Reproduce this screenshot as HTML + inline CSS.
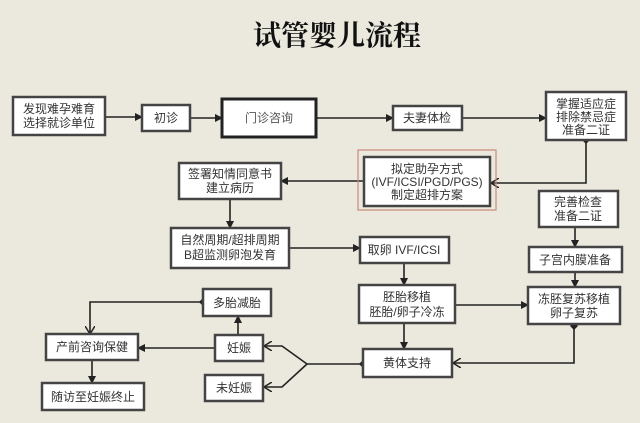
<!DOCTYPE html>
<html><head><meta charset="utf-8"><style>
html,body{margin:0;padding:0;background:#ebe8dd;}
svg{display:block;}
text{font-family:"Liberation Sans","Noto Sans CJK SC",sans-serif;font-size:12px;fill:#333;text-anchor:middle;}
.b{fill:#fff;stroke:#444;stroke-width:2.5;}
.l{stroke:#222;stroke-width:1.6;fill:none;}
</style></head><body>
<svg width="640" height="423" viewBox="0 0 640 423" xmlns="http://www.w3.org/2000/svg">
<defs>
<marker id="a" markerWidth="8" markerHeight="8" refX="7" refY="4" orient="auto" markerUnits="userSpaceOnUse"><path d="M0,0 L8,4 L0,8 Z" fill="#222"/></marker>
<marker id="o" markerWidth="9" markerHeight="10" refX="8" refY="5" orient="auto" markerUnits="userSpaceOnUse"><path d="M0,0 L8,5 L0,10" fill="none" stroke="#222" stroke-width="1.5"/></marker>
</defs>
<rect width="640" height="423" fill="#ebe8dd"/>
<text x="337" y="45" style="font-family:'Noto Serif CJK SC',serif;font-size:28px;font-weight:bold;fill:#111">试管婴儿流程</text>

<!-- connectors -->
<line class="l" x1="105" y1="117" x2="142" y2="117" marker-end="url(#a)"/>
<line class="l" x1="190" y1="118" x2="222" y2="118" marker-end="url(#a)"/>
<line class="l" x1="316" y1="118" x2="393" y2="118" marker-end="url(#a)"/>
<line class="l" x1="462" y1="118" x2="546" y2="118" marker-end="url(#a)"/>
<polyline class="l" points="586,142 586,183 491,183" marker-end="url(#o)"/>
<path d="M586,136 l4,4 -4,4 -4,-4z" fill="#222"/>
<line class="l" x1="364" y1="181" x2="281" y2="181" marker-end="url(#a)"/>
<line class="l" x1="230" y1="199" x2="230" y2="228" marker-end="url(#a)"/>
<line class="l" x1="289" y1="248" x2="360" y2="248" marker-end="url(#a)"/>
<line class="l" x1="575" y1="227" x2="575" y2="247" marker-end="url(#a)"/>
<line class="l" x1="404" y1="263" x2="404" y2="285" marker-end="url(#a)"/>
<line class="l" x1="575" y1="272" x2="575" y2="287" marker-end="url(#a)"/>
<line class="l" x1="455" y1="305" x2="528" y2="305" marker-end="url(#a)"/>
<line class="l" x1="404" y1="323" x2="404" y2="349" marker-end="url(#a)"/>
<polyline class="l" points="574,326 574,363 453,363" marker-end="url(#o)"/>
<path d="M574,322 l4,4 -4,4 -4,-4z" fill="#222"/>
<line class="l" x1="363" y1="364" x2="307" y2="364"/>
<path d="M363,360 l4,4 -4,4 -4,-4z" fill="#222"/>
<polyline class="l" points="307,364 282,346 264,346" marker-end="url(#o)"/>
<polyline class="l" points="307,364 282,387 264,387" marker-end="url(#o)"/>
<line class="l" x1="215" y1="348" x2="138" y2="348" marker-end="url(#a)"/>
<line class="l" x1="238" y1="335" x2="238" y2="316" marker-end="url(#a)"/>
<polyline class="l" points="203,302 90,302 90,334" marker-end="url(#o)"/>
<path d="M203,298 l4,4 -4,4 -4,-4z" fill="#222"/>
<line class="l" x1="92" y1="360" x2="92" y2="383" marker-end="url(#a)"/>

<!-- boxes -->
<rect class="b" x="13" y="97" width="92" height="38"/>
<text x="59" y="113">发现难孕难育</text><text x="59" y="127">选择就诊单位</text>
<rect class="b" x="142" y="105" width="48" height="26"/>
<text x="166" y="122">初诊</text>
<rect class="b" x="222" y="99" width="94" height="38" style="stroke:#222;stroke-width:3"/>
<text x="269" y="122" style="fill:#555">门诊咨询</text>
<rect class="b" x="393" y="106" width="69" height="24"/>
<text x="427" y="122">夫妻体检</text>
<rect class="b" x="546" y="92" width="80" height="48"/>
<text x="586" y="108">掌握适应症</text><text x="586" y="121">排除禁忌症</text><text x="586" y="134">准备二证</text>
<rect x="358" y="150" width="138" height="60" fill="none" stroke="#c98a7a" stroke-width="1.2"/>
<rect class="b" x="364" y="157" width="126" height="49"/>
<text x="427" y="173">拟定助孕方式</text><text x="427" y="186">(IVF/ICSI/PGD/PGS)</text><text x="427" y="199">制定超排方案</text>
<rect class="b" x="179" y="163" width="102" height="36"/>
<text x="230" y="178">签署知情同意书</text><text x="230" y="192">建立病历</text>
<rect class="b" x="171" y="228" width="118" height="40"/>
<text x="230" y="244">自然周期/超排周期</text><text x="230" y="259">B超监测卵泡发育</text>
<rect class="b" x="539" y="191" width="79" height="36"/>
<text x="578" y="206">完善检查</text><text x="578" y="220">准备二证</text>
<rect class="b" x="360" y="237" width="89" height="26"/>
<text x="404" y="254">取卵 IVF/ICSI</text>
<rect class="b" x="529" y="247" width="93" height="25"/>
<text x="575" y="264">子宫内膜准备</text>
<rect class="b" x="359" y="285" width="96" height="38"/>
<text x="407" y="301">胚胎移植</text><text x="407" y="316">胚胎/卵子冷冻</text>
<rect class="b" x="528" y="287" width="92" height="37"/>
<text x="574" y="303">冻胚复苏移植</text><text x="574" y="317">卵子复苏</text>
<rect class="b" x="363" y="349" width="89" height="28"/>
<text x="407" y="367">黄体支持</text>
<rect class="b" x="203" y="289" width="68" height="27"/>
<text x="237" y="307">多胎减胎</text>
<rect class="b" x="215" y="335" width="48" height="26"/>
<text x="239" y="352">妊娠</text>
<rect class="b" x="205" y="375" width="58" height="26"/>
<text x="234" y="392">未妊娠</text>
<rect class="b" x="46" y="334" width="92" height="26"/>
<text x="92" y="351">产前咨询保健</text>
<rect class="b" x="42" y="383" width="102" height="27"/>
<text x="93" y="401">随访至妊娠终止</text>
</svg>
</body></html>
